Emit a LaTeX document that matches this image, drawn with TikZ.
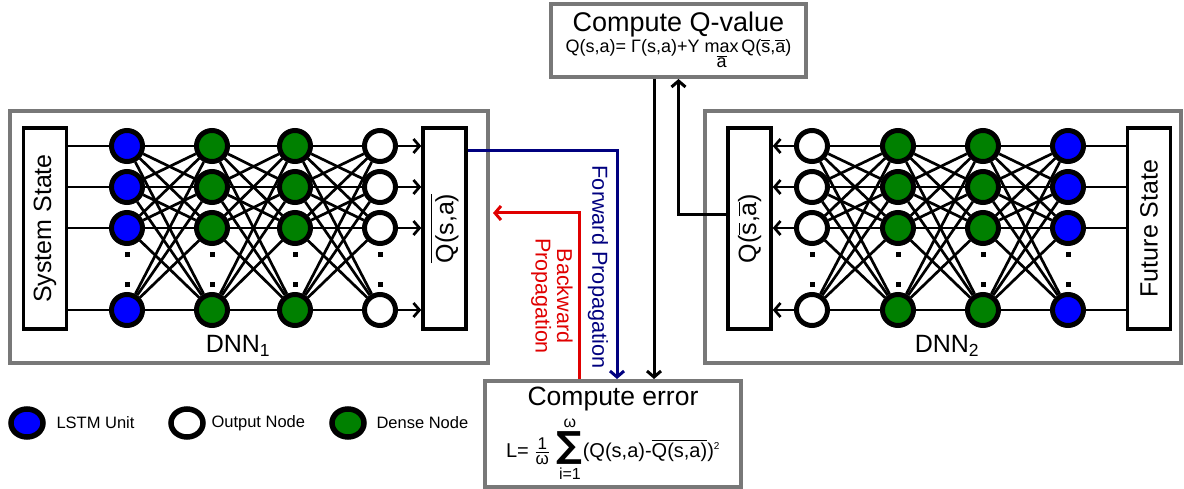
\documentclass[tikz,border=0pt]{standalone}
\usepackage{amsmath}
\usepackage{fontspec}
\setmainfont{Liberation Sans}
\newfontfamily\sumfont{DejaVu Sans}
\usetikzlibrary{arrows.meta,positioning,shapes.geometric}
\definecolor{NetBlue}{HTML}{0000FF}
\definecolor{NetGreen}{HTML}{008000}
\definecolor{FrameGray}{HTML}{787878}
\definecolor{ForwardNavy}{HTML}{00007F}
\definecolor{BackwardRed}{HTML}{E00000}
\newcommand{\ovl}[1]{$\overline{\hbox{#1}}$}
\newcommand{\fsz}[1]{\fontsize{#1}{#1}\selectfont}

\begin{document}
\begin{tikzpicture}[x=1pt,y=-1pt,
    panel/.style={draw=FrameGray,line width=4pt,fill=white,inner sep=0pt},
    statebox/.style={draw,line width=3.5pt,fill=white,rotate=90,
      minimum width=201pt,minimum height=43pt,inner sep=0pt,font=\fsz{25}},
    neuron/.style={circle,draw,line width=5pt,minimum size=31pt,inner sep=0pt},
    lstm/.style={neuron,fill=NetBlue},
    dense/.style={neuron,fill=NetGreen},
    outnode/.style={neuron,fill=white},
    keynode/.style={ellipse,draw,line width=5.5pt,minimum width=32pt,minimum height=28pt,inner sep=0pt},
    gapdot/.style={fill,minimum size=5pt,inner sep=0pt},
    link/.style={line width=2.7pt},
    flowline/.style={line width=3pt},
    >={Straight Barb[length=6pt,width=14pt]}]
  \useasboundingbox (0,0) rectangle (1184,489);
  % panels
  \node[panel,minimum width=478pt,minimum height=252pt] (dnnone) at (249,237) {};
  \node[panel,minimum width=476pt,minimum height=252pt] (dnntwo) at (943,237) {};
  \node[panel,minimum width=255pt,minimum height=73pt,align=center] (qvalue) at (678.5,40.5)
    {\fsz{27}Compute Q-value\\[1pt]
     \fsz{18}Q(s,a)= Γ(s,a)+Υ $\mathop{\hbox{max}}\limits_{\overline{\hbox{a}}}\,$Q(\ovl{s},\ovl{a})};
  \node[panel,minimum width=256pt,minimum height=106pt,align=center] (errbox) at (613,434)
    {\fsz{26.5}Compute error\\[5pt]
     \fsz{20}L= $\frac{\hbox{\fsz{17}1}}{\hbox{\fsz{17}ω}}\,
       \mathop{\hbox{\sumfont\bfseries\fsz{36}∑}}\limits_{\hbox{\fsz{16}i=1}}^{\hbox{\fsz{16}ω}}$(Q(s,a)-\ovl{Q(s,a)})$^{\hbox{\fsz{10}2}}$};

  % DNN 1
  \foreach \c/\x/\kind in {1/127/lstm,2/212/dense,3/295/dense,4/380/outnode}{
    \foreach \r/\y in {1/146,2/187,3/228,4/310}
      \node[\kind] (a\c\r) at (\x,\y) {};
    \node[gapdot] (adota\c) at (\x,255) {};
    \node[gapdot] (adotb\c) at (\x,285) {};
  }
  \foreach \c/\n in {1/2,2/3,3/4}
    \foreach \i in {1,...,4}
      \foreach \j in {1,...,4}
        \draw[link] (a\c\i) -- (a\n\j);
  \node[statebox] (sysstate) at (45,228.5) {System State};
  \node[statebox] (qleft) at (444.5,228.5) {\ovl{Q(s,a)}};
  \foreach \r in {1,...,4}{
    \draw[link] (a1\r -| sysstate.south) -- (a1\r);
    \draw[link,->] (a4\r) -- (a4\r -| qleft.north);
  }
  \node[font=\fsz{25}] (dnnonelabel) at (238,346) {DNN\textsubscript{1}};

  % DNN 2
  \foreach \c/\x/\kind in {1/812/outnode,2/898/dense,3/983/dense,4/1068/lstm}{
    \foreach \r/\y in {1/146,2/187,3/228,4/310}
      \node[\kind] (b\c\r) at (\x,\y) {};
    \node[gapdot] (bdota\c) at (\x,255) {};
    \node[gapdot] (bdotb\c) at (\x,285) {};
  }
  \foreach \c/\n in {1/2,2/3,3/4}
    \foreach \i in {1,...,4}
      \foreach \j in {1,...,4}
        \draw[link] (b\c\i) -- (b\n\j);
  \node[statebox] (qright) at (749.5,228.5) {Q(\ovl{s},\ovl{a})};
  \node[statebox] (futstate) at (1149,228.5) {Future State};
  \foreach \r in {1,...,4}{
    \draw[link,->] (b1\r) -- (b1\r -| qright.south);
    \draw[link] (b4\r -| futstate.north) -- (b4\r);
  }
  \node[font=\fsz{25}] (dnntwolabel) at (947,346) {DNN\textsubscript{2}};

  % propagation
  \coordinate (qdown) at ([xshift=-24.5pt]qvalue.south);
  \draw[flowline,ForwardNavy,->] (qleft.south |- 0,151) -| ([xshift=4pt]errbox.north);
  \draw[flowline,BackwardRed,->,shorten >=3pt] ([xshift=-34pt]errbox.north) |- (dnnone.east |- 0,213);
  \draw[flowline,->] (qdown) -- (qdown |- errbox.north);
  \draw[flowline,->] (qright.north |- 0,215) -| (qvalue.south);
  \node[rotate=-90,ForwardNavy,font=\fsz{21.7}] (fwdlabel) at (598,267) {Forward Propagation};
  \node[rotate=-90,BackwardRed,font=\fsz{21.5},align=center] (bwdlabel) at (552,296) {Backward\\Propagation};

  % legend
  \node[keynode,fill=NetBlue] (keylstm) at (27,423) {};
  \node[anchor=west,font=\fsz{16.5}] (keylstmtext) at (53,423) {LSTM Unit};
  \node[keynode,fill=white] (keyout) at (187,423) {};
  \node[anchor=west,font=\fsz{16.5}] (keyouttext) at (208,423) {Output Node};
  \node[keynode,fill=NetGreen] (keydense) at (348,423) {};
  \node[anchor=west,font=\fsz{16.5}] (keydensetext) at (373,423) {Dense Node};
\end{tikzpicture}
\end{document}
